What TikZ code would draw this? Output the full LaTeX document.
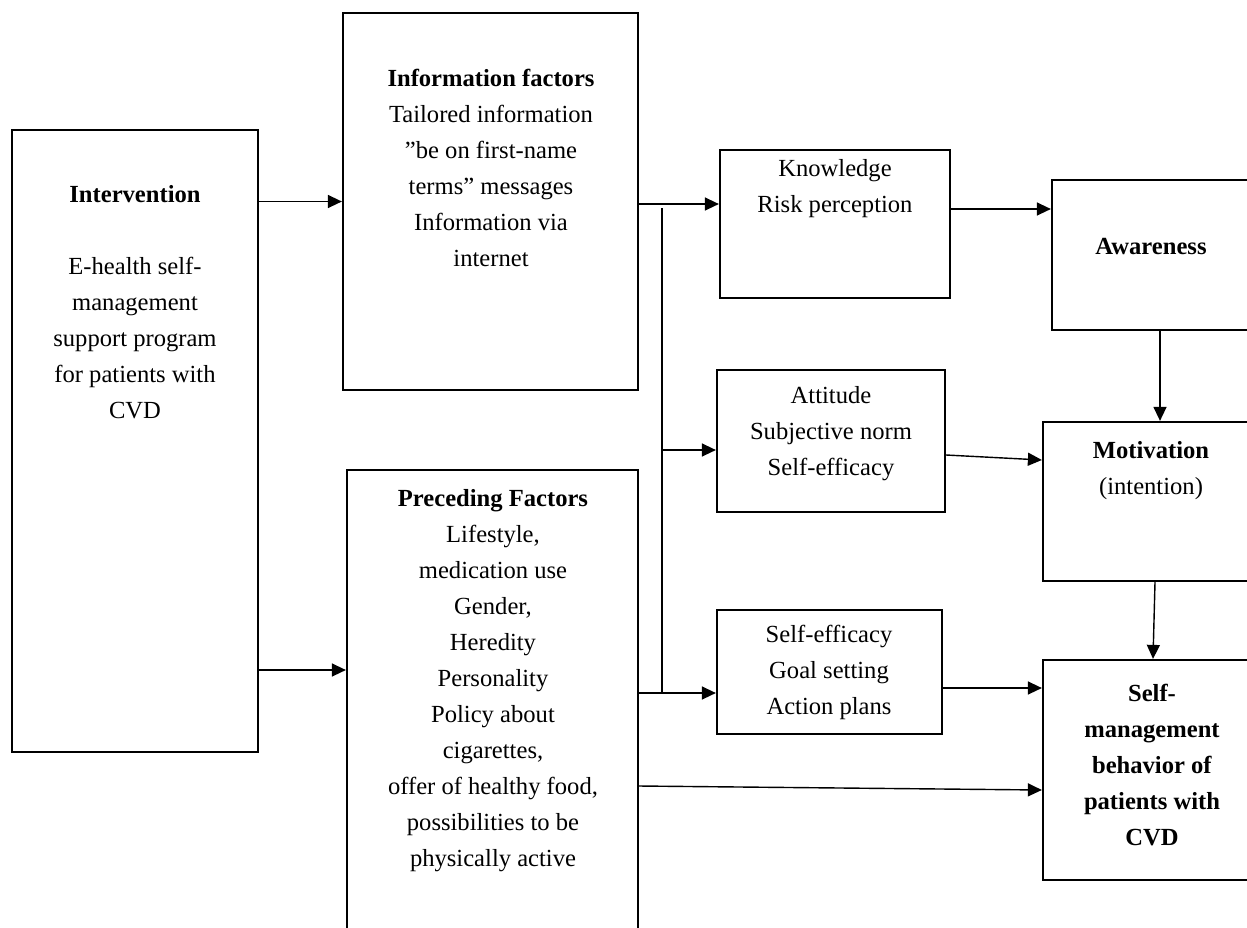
\documentclass[tikz,border=0pt]{standalone}
\usepackage{fontspec}
\setmainfont{Liberation Serif}
\usepackage{tikz}
\usetikzlibrary{arrows.meta}

\begin{document}
\begin{tikzpicture}[x=0.02cm, y=-0.02cm,
  box/.style={draw, line width=1.3pt, inner sep=0pt},
  txt/.style={anchor=north, align=center, inner sep=0pt,
              font=\fontsize{14}{20.5}\selectfont},
  arr/.style={line width=0.8pt, -{Triangle[length=2.8mm, width=2.6mm]}},
  line/.style={line width=0.8pt}]

\clip (0,0) rectangle (1247,927);

% Boxes
\node[box, minimum width=4.92cm, minimum height=12.44cm] (interv) at (135,441) {};
\node[box, minimum width=5.9cm, minimum height=7.54cm] (info) at (490.5,201.5) {};
\node[box, minimum width=5.82cm, minimum height=10.2cm] (prec) at (492.5,725) {};
\node[box, minimum width=4.6cm, minimum height=2.96cm] (know) at (835,224) {};
\node[box, minimum width=4.56cm, minimum height=2.84cm] (att) at (831,441) {};
\node[box, minimum width=4.5cm, minimum height=2.48cm] (selfeff) at (829.5,672) {};
\node[box, minimum width=4.76cm, minimum height=3cm] (aware) at (1171,255) {};
\node[box, minimum width=4.94cm, minimum height=3.18cm] (motiv) at (1166.5,501.5) {};
\node[box, minimum width=4.94cm, minimum height=4.4cm] (selfman) at (1166.5,770) {};

% Texts
\node[txt] (interv-t) at (135,185)
  {\textbf{Intervention}\\[20.5pt]E-health self-\\management\\support program\\for patients with\\CVD};
\node[txt] (info-t) at (491,69)
  {\textbf{Information factors}\\Tailored information\\”be on first-name\\terms” messages\\Information via\\internet};
\node[txt] (prec-t) at (493,489)
  {\textbf{Preceding Factors}\\Lifestyle,\\medication use\\Gender,\\Heredity\\Personality\\Policy about\\cigarettes,\\offer of healthy food,\\possibilities to be\\physically active};
\node[txt] (know-t) at (835,159) {Knowledge\\Risk perception};
\node[txt] (att-t) at (831,386) {Attitude\\Subjective norm\\Self-efficacy};
\node[txt] (selfeff-t) at (829,625) {Self-efficacy\\Goal setting\\Action plans};
\node[txt] (aware-t) at (1151,238) {\textbf{Awareness}};
\node[txt] (motiv-t) at (1151,441) {\textbf{Motivation}\\(intention)};
\node[txt] (selfman-t) at (1152,684)
  {\textbf{Self-}\\\textbf{management}\\\textbf{behavior of}\\\textbf{patients with}\\\textbf{CVD}};

% Junctions
\coordinate (jtop) at (662,204);
\coordinate (jmid) at (662,450);
\coordinate (jbot) at (662,693);
\coordinate (cprec) at (258,670);

% Connectors
\draw[arr] (interv.east |- info.west) -- (info.west);
\draw[arr] (interv.east |- cprec) -- (prec.west |- cprec);
\draw[arr] (info.east |- jtop) -- (know.west |- jtop);
\draw[line] (662,208) -- (jbot);
\draw[arr] (jmid) -- (att.west |- jmid);
\draw[arr] (prec.east |- jbot) -- (selfeff.west |- jbot);
\draw[arr] (know.east |- 0,209) -- (aware.west |- 0,209);
\draw[arr] (att.east |- 0,455) -- (motiv.west |- 0,460);
\draw[arr] (selfeff.east |- 0,688) -- (selfman.west |- 0,688);
\draw[arr] (prec.east |- 0,786) -- (selfman.west |- 0,790);
\draw[arr] (aware.south -| 1160,0) -- (motiv.north -| 1160,0);
\draw[arr] (motiv.south -| 1155,0) -- (selfman.north -| 1153,0);

\end{tikzpicture}
\end{document}
